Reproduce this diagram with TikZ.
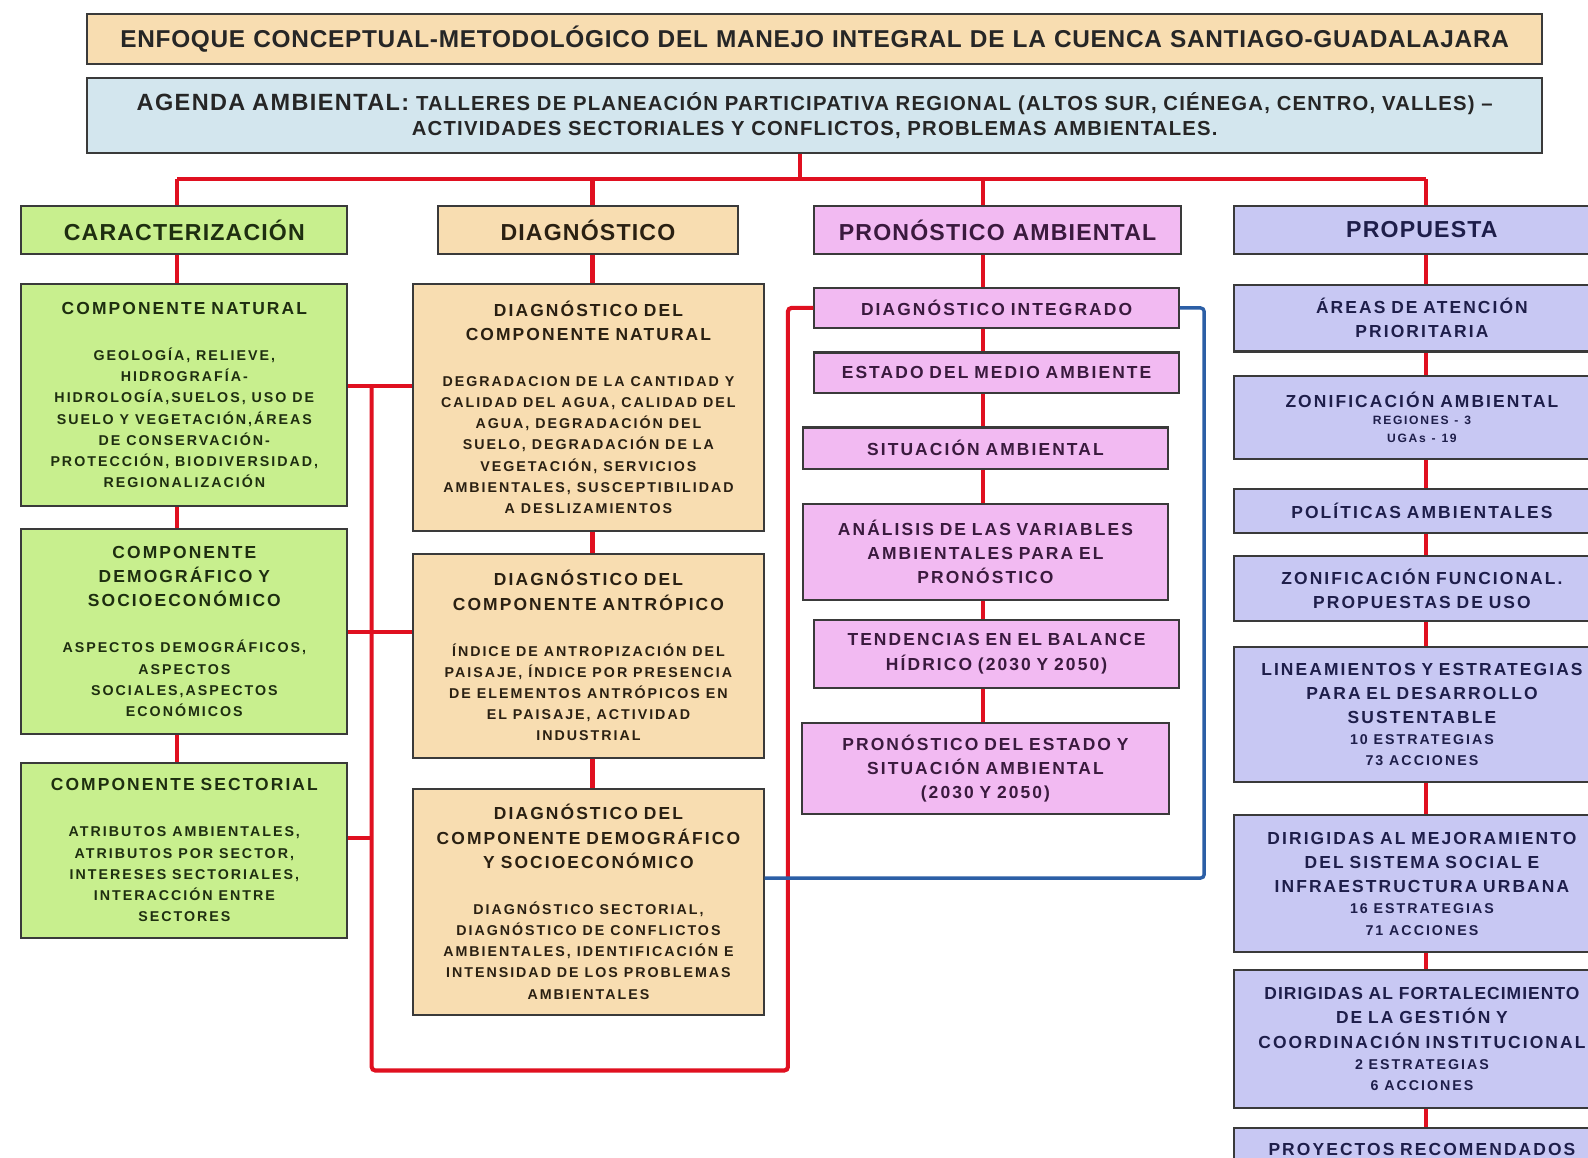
\documentclass[tikz,border=0pt]{standalone}
\usepackage{fontspec}
\setmainfont{Liberation Sans}
\definecolor{crema}{HTML}{F8DDB1}
\definecolor{celeste}{HTML}{D3E6EE}
\definecolor{verde}{HTML}{C8EF8E}
\definecolor{rosa}{HTML}{F2BAF2}
\definecolor{lila}{HTML}{C8C8F3}
\definecolor{rojo}{HTML}{E01020}
\definecolor{azul}{HTML}{2C5FA6}
\definecolor{borde}{HTML}{3A3A3A}
\definecolor{txtverde}{HTML}{1E2E10}
\definecolor{txtcrema}{HTML}{2A2012}
\definecolor{txtrosa}{HTML}{3A1A3E}
\definecolor{txtlila}{HTML}{1E1E4A}
\newcommand{\titular}{\fontsize{13.7}{16}\selectfont\addfontfeature{LetterSpace=3}}
\newcommand{\agendafont}{\fontsize{11.4}{13.6}\selectfont\addfontfeature{LetterSpace=6}}
\newcommand{\encabezado}{\fontsize{13}{15}\selectfont\addfontfeature{LetterSpace=5}}
\newcommand{\subtitulo}{\fontsize{9.8}{13.6}\selectfont\addfontfeature{LetterSpace=12}}
\newcommand{\cuerpo}{\fontsize{8}{11.9}\selectfont\addfontfeature{LetterSpace=14}}
\newcommand{\menor}{\fontsize{6.8}{10}\selectfont\addfontfeature{LetterSpace=14}}
\newcommand{\bloque}[2]{{\subtitulo #1\par}\vskip 14pt{\cuerpo #2\par}}
\newcommand{\conteo}[2]{{\subtitulo #1\par}{\cuerpo #2\par}}

\begin{document}
\begin{tikzpicture}[x=0.02cm, y=-0.02cm,
  caja/.style={draw=borde, line width=1.2pt, inner sep=0pt, anchor=north west, align=center, font=\bfseries},
  cabeza/.style={caja, minimum height=0.96cm, font=\bfseries\encabezado},
  verdecaja/.style={caja, fill=verde, text=txtverde, minimum width=6.44cm, text width=6.44cm},
  cremacaja/.style={caja, fill=crema, text=txtcrema, minimum width=6.92cm, text width=6.92cm},
  rosacaja/.style={caja, fill=rosa, text=txtrosa, minimum width=7.2cm, text width=7.2cm, font=\bfseries\subtitulo},
  lilacaja/.style={caja, fill=lila, text=txtlila, minimum width=7.44cm, text width=7.44cm, font=\bfseries\subtitulo},
  linearoja/.style={draw=rojo, line width=2.3pt},
  lineaazul/.style={draw=azul, line width=1.9pt}]
 \useasboundingbox (0,0) rectangle (1568,1143);
 \fill[white] (0,0) rectangle (1568,1143);
 \clip (0,0) rectangle (1568,1143);

 % title
 \node (tit) at (85,13) [caja, fill=crema, text=black!85, minimum width=28.74cm, text width=28.74cm, minimum height=0.98cm, font=\bfseries\titular] {ENFOQUE CONCEPTUAL-METODOLÓGICO DEL MANEJO INTEGRAL DE LA CUENCA SANTIAGO-GUADALAJARA};
 \node (agenda) at (85,76) [caja, fill=celeste, text=black!85, minimum width=28.74cm, text width=28.74cm, minimum height=1.48cm, font=\bfseries\agendafont] {{\fontsize{13.2}{14}\selectfont AGENDA AMBIENTAL:} TALLERES DE PLANEACIÓN PARTICIPATIVA REGIONAL (ALTOS SUR, CIÉNEGA, CENTRO, VALLES) --\\ ACTIVIDADES SECTORIALES Y CONFLICTOS, PROBLEMAS AMBIENTALES.};

 % coordinates
 \coordinate (k0) at (790,177);
 \coordinate (k1) at (175,177);
 \coordinate (k2) at (585,177);
 \coordinate (k3) at (971,177);
 \coordinate (k4) at (1408,177);
 \coordinate (r1) at (367,381);
 \coordinate (r2) at (367,624);
 \coordinate (r3) at (367,827);
 \coordinate (b1) at (367,1057);
 \coordinate (b2) at (778,1057);
 \coordinate (u1) at (1189,867);

 % headers
 \node (h1) at (20,202) [cabeza, fill=verde, text=txtverde, minimum width=6.44cm, text width=6.44cm] {CARACTERIZACIÓN};
 \node (h2) at (431,202) [cabeza, fill=crema, text=txtcrema, minimum width=5.94cm, text width=5.94cm] {DIAGNÓSTICO};
 \node (h3) at (803,202) [cabeza, fill=rosa, text=txtrosa, minimum width=7.24cm, text width=7.24cm] {PRONÓSTICO AMBIENTAL};
 \node (h4) at (1217,202) [cabeza, fill=lila, text=txtlila, minimum width=7.44cm, text width=7.44cm] {PROPUESTA};

 % caracterizacion
 \node (g1) at (20,279) [verdecaja, minimum height=4.40cm] {\bloque{COMPONENTE NATURAL}{GEOLOGÍA, RELIEVE,\\ HIDROGRAFÍA-\\ HIDROLOGÍA,SUELOS, USO DE\\ SUELO Y VEGETACIÓN,ÁREAS\\ DE CONSERVACIÓN-\\ PROTECCIÓN, BIODIVERSIDAD,\\ REGIONALIZACIÓN}};
 \node (g2) at (20,521) [verdecaja, minimum height=4.06cm] {\bloque{COMPONENTE\\ DEMOGRÁFICO Y\\ SOCIOECONÓMICO}{ASPECTOS DEMOGRÁFICOS,\\ ASPECTOS\\ SOCIALES,ASPECTOS\\ ECONÓMICOS}};
 \node (g3) at (20,752) [verdecaja, minimum height=3.46cm] {\bloque{COMPONENTE SECTORIAL}{ATRIBUTOS AMBIENTALES,\\ ATRIBUTOS POR SECTOR,\\ INTERESES SECTORIALES,\\ INTERACCIÓN ENTRE\\ SECTORES}};

 % diagnostico
 \node (t1) at (407,279) [cremacaja, minimum height=4.88cm] {\bloque{DIAGNÓSTICO DEL\\ COMPONENTE NATURAL}{DEGRADACION DE LA CANTIDAD Y\\ CALIDAD DEL AGUA, CALIDAD DEL\\ AGUA, DEGRADACIÓN DEL\\ SUELO, DEGRADACIÓN DE LA\\ VEGETACIÓN, SERVICIOS\\ AMBIENTALES, SUSCEPTIBILIDAD\\ A DESLIZAMIENTOS}};
 \node (t2) at (407,546) [cremacaja, minimum height=4.02cm] {\bloque{DIAGNÓSTICO DEL\\ COMPONENTE ANTRÓPICO}{ÍNDICE DE ANTROPIZACIÓN DEL\\ PAISAJE, ÍNDICE POR PRESENCIA\\ DE ELEMENTOS ANTRÓPICOS EN\\ EL PAISAJE, ACTIVIDAD\\ INDUSTRIAL}};
 \node (t3) at (407,778) [cremacaja, minimum height=4.46cm] {\bloque{DIAGNÓSTICO DEL\\ COMPONENTE DEMOGRÁFICO\\ Y SOCIOECONÓMICO}{DIAGNÓSTICO SECTORIAL,\\ DIAGNÓSTICO DE CONFLICTOS\\ AMBIENTALES, IDENTIFICACIÓN E\\ INTENSIDAD DE LOS PROBLEMAS\\ AMBIENTALES}};

 % pronostico
 \node (p1) at (803,283) [rosacaja, minimum height=0.80cm] {DIAGNÓSTICO INTEGRADO};
 \node (p2) at (803,347) [rosacaja, minimum height=0.80cm] {ESTADO DEL MEDIO AMBIENTE};
 \node (p3) at (792,421) [rosacaja, minimum height=0.82cm] {SITUACIÓN AMBIENTAL};
 \node (p4) at (792,497) [rosacaja, minimum height=1.88cm] {ANÁLISIS DE LAS VARIABLES\\ AMBIENTALES PARA EL\\ PRONÓSTICO};
 \node (p5) at (803,611) [rosacaja, minimum height=1.34cm] {TENDENCIAS EN EL BALANCE\\ HÍDRICO (2030 Y 2050)};
 \node (p6) at (791,713) [rosacaja, minimum width=7.24cm, text width=7.24cm, minimum height=1.80cm] {PRONÓSTICO DEL ESTADO Y\\ SITUACIÓN AMBIENTAL\\ (2030 Y 2050)};

 % propuesta
 \node (v1) at (1217,280) [lilacaja, minimum height=1.32cm] {ÁREAS DE ATENCIÓN\\ PRIORITARIA};
 \node (v2) at (1217,370) [lilacaja, minimum height=1.64cm] {{\subtitulo ZONIFICACIÓN AMBIENTAL\par}{\menor REGIONES - 3\\ UGAs - 19\par}};
 \node (v3) at (1217,482) [lilacaja, minimum height=0.86cm] {POLÍTICAS AMBIENTALES};
 \node (v4) at (1217,548) [lilacaja, minimum height=1.28cm] {ZONIFICACIÓN FUNCIONAL.\\ PROPUESTAS DE USO};
 \node (v5) at (1217,638) [lilacaja, minimum height=2.66cm] {\conteo{LINEAMIENTOS Y ESTRATEGIAS\\ PARA EL DESARROLLO\\ SUSTENTABLE}{10 ESTRATEGIAS\\ 73 ACCIONES}};
 \node (v6) at (1217,804) [lilacaja, minimum height=2.70cm] {\conteo{DIRIGIDAS AL MEJORAMIENTO\\ DEL SISTEMA SOCIAL E\\ INFRAESTRUCTURA URBANA}{16 ESTRATEGIAS\\ 71 ACCIONES}};
 \node (v7) at (1217,957) [lilacaja, minimum height=2.72cm] {\conteo{{\addfontfeature{LetterSpace=6}DIRIGIDAS AL FORTALECIMIENTO}\\ DE LA GESTIÓN Y\\ COORDINACIÓN INSTITUCIONAL}{2 ESTRATEGIAS\\ 6 ACCIONES}};
 \node (v8) at (1217,1113) [lilacaja, minimum height=0.84cm] {PROYECTOS RECOMENDADOS};

 % connectors
 \draw[linearoja] (agenda.south -| k0) -- (k0);
 \draw[linearoja] (k1) -- (k4);
 \foreach \i in {1,...,4} {
  \draw[linearoja] (k\i) -- (k\i |- h\i.north);
 };
 \foreach \a/\b/\k in {h1/g1/k1, g1/g2/k1, g2/g3/k1, h2/t1/k2, t1/t2/k2, t2/t3/k2,
   h3/p1/k3, p1/p2/k3, p2/p3/k3, p3/p4/k3, p4/p5/k3, p5/p6/k3,
   h4/v1/k4, v1/v2/k4, v2/v3/k4, v3/v4/k4, v4/v5/k4, v5/v6/k4, v6/v7/k4, v7/v8/k4} {
  \draw[linearoja] (\a.south -| \k) -- (\b.north -| \k);
 };
 \draw[linearoja] (g1.east |- r1) -- (t1.west |- r1);
 \draw[linearoja] (g2.east |- r2) -- (t2.west |- r2);
 \draw[linearoja] (g3.east |- r3) -- (r3);
 \draw[linearoja, rounded corners=2pt] (r1) -- (b1) -- (b2) |- (p1.west);
 \draw[lineaazul, rounded corners=2pt] (p1.east) -| (u1) -- (t3.east |- u1);
\end{tikzpicture}
\end{document}
